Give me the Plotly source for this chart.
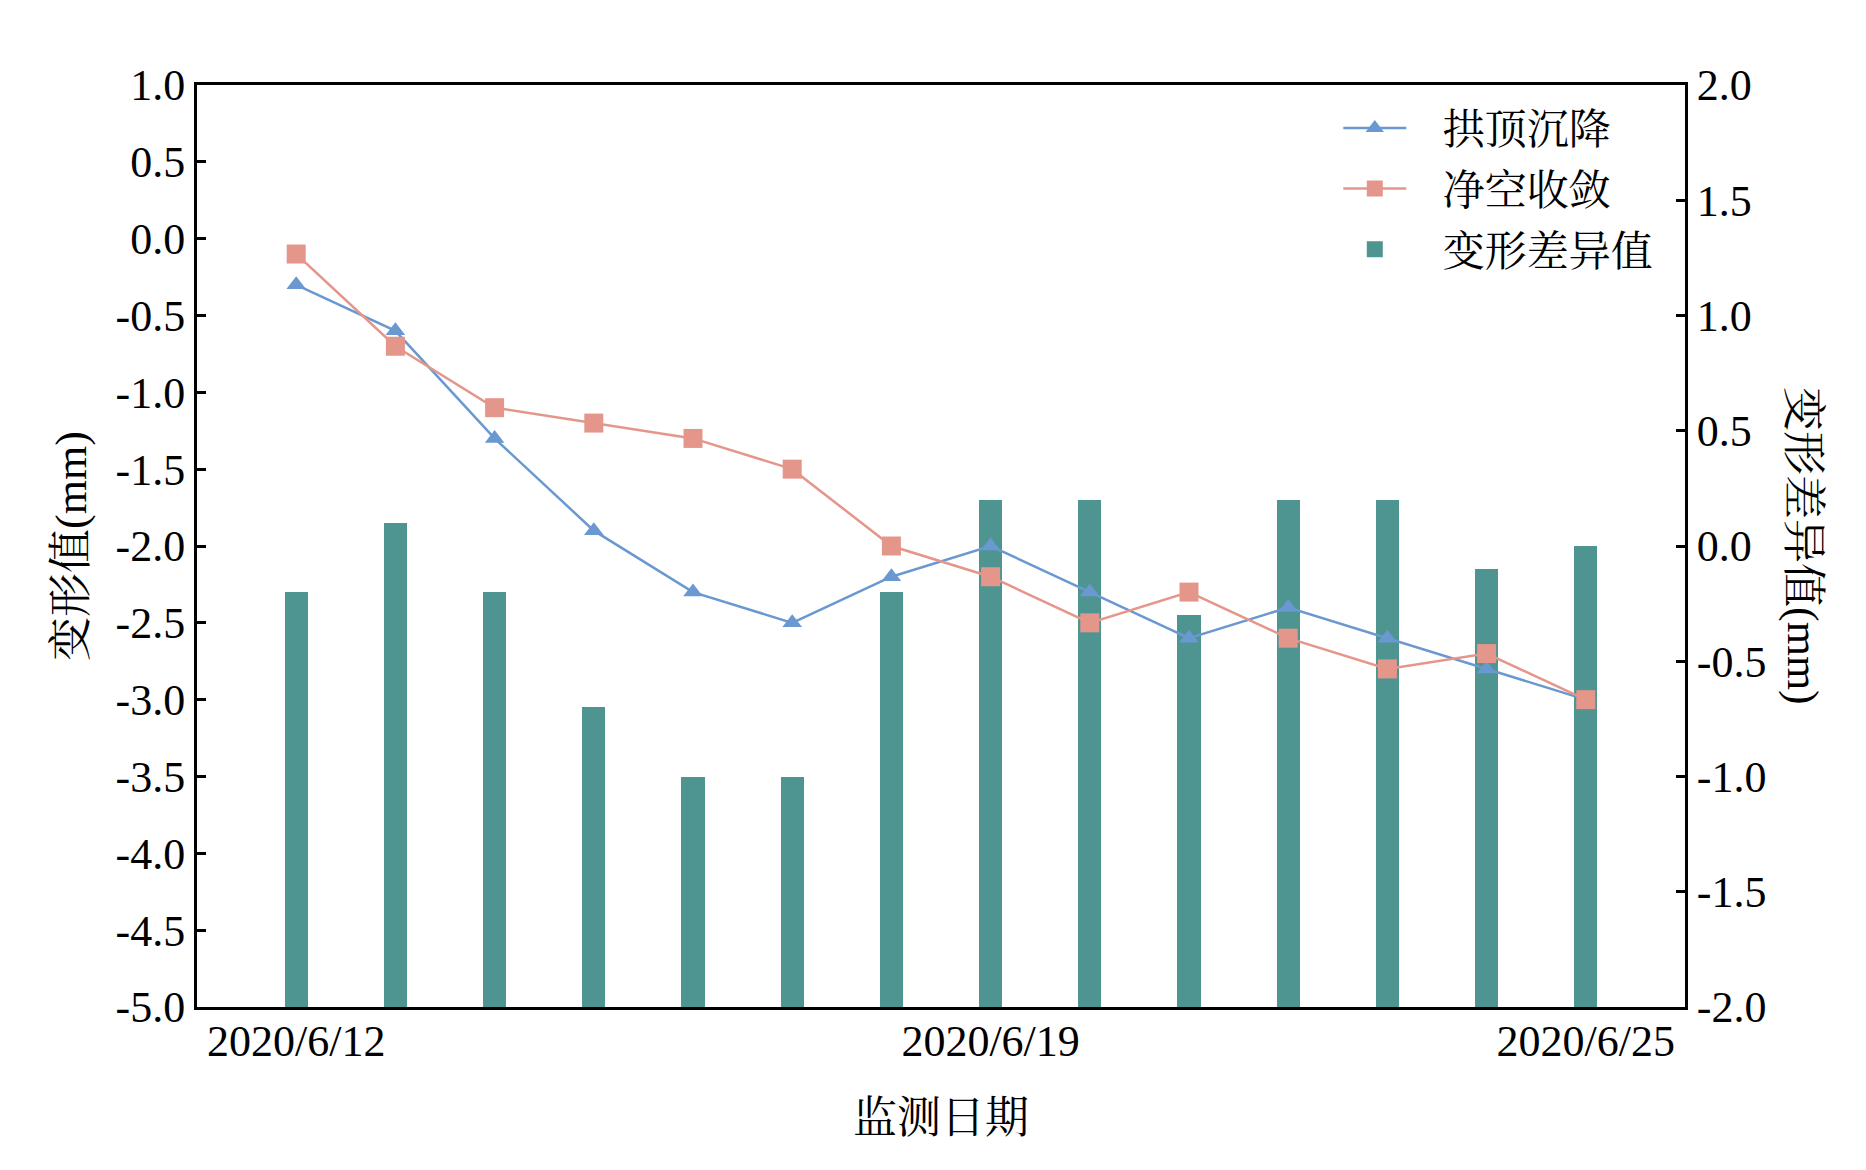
import plotly.graph_objects as go

dates = ["2020/6/12", "2020/6/13", "2020/6/14", "2020/6/15", "2020/6/16", "2020/6/17", "2020/6/18",
         "2020/6/19", "2020/6/20", "2020/6/21", "2020/6/22", "2020/6/23", "2020/6/24", "2020/6/25"]
crown_settlement = [-0.3, -0.6, -1.3, -1.9, -2.3, -2.5, -2.2, -2.0, -2.3, -2.6, -2.4, -2.6, -2.8, -3.0]
clearance_convergence = [-0.1, -0.7, -1.1, -1.2, -1.3, -1.5, -2.0, -2.2, -2.5, -2.3, -2.6, -2.8, -2.7, -3.0]
difference = [-0.2, 0.1, -0.2, -0.7, -1.0, -1.0, -0.2, 0.2, 0.2, -0.3, 0.2, 0.2, -0.1, 0.0]

x_ticks = ["2020/6/12", "2020/6/19", "2020/6/25"]
left_ticks = [-5.0, -4.5, -4.0, -3.5, -3.0, -2.5, -2.0, -1.5, -1.0, -0.5, 0.0, 0.5, 1.0]
right_ticks = [-2.0, -1.5, -1.0, -0.5, 0.0, 0.5, 1.0, 1.5, 2.0]
bar_floor = -2.0

BLUE = "#6a98d0"
SALMON = "#e5968a"
TEAL = "#4e9592"
FONT = "Liberation Serif, Noto Serif CJK SC, Noto Sans CJK SC, serif"
FS = 44
GAP = "\u00a0\u00a0\u00a0"

fig = go.Figure()

fig.add_trace(go.Bar(
    x=dates, y=[d - bar_floor for d in difference], base=bar_floor,
    width=0.232, marker=dict(color=TEAL, line=dict(width=0)),
    name="变形差异值", showlegend=False, yaxis="y", legendgroup="z",
))
fig.add_trace(go.Scatter(
    x=dates, y=crown_settlement, mode="lines+markers", name=GAP + "拱顶沉降",
    line=dict(color=BLUE, width=2.5), marker=dict(symbol="triangle-up", size=17, color=BLUE),
    yaxis="y2", legendrank=1, legendgroup="a",
))
fig.add_trace(go.Scatter(
    x=dates, y=clearance_convergence, mode="lines+markers", name=GAP + "净空收敛",
    line=dict(color=SALMON, width=2.5), marker=dict(symbol="square", size=19, color=SALMON),
    yaxis="y2", legendrank=2, legendgroup="b",
))
fig.add_trace(go.Scatter(
    x=[None], y=[None], mode="markers", name=GAP + "变形差异值",
    marker=dict(symbol="square", size=21, color=TEAL),
    yaxis="y2", legendrank=3, legendgroup="c",
))

axis_common = dict(showline=True, linecolor="black", linewidth=3, ticks="inside",
                   ticklen=9, tickwidth=3, tickcolor="black", showgrid=False, zeroline=False,
                   tickfont=dict(family=FONT, size=FS, color="black"))

fig.update_layout(
    width=1866, height=1170,
    margin=dict(l=189, r=189, t=77, b=171),
    paper_bgcolor="white", plot_bgcolor="white",
    font=dict(family=FONT, size=FS, color="black"),
    xaxis=dict(type="category", range=[-1, len(dates)], tickmode="array", tickvals=x_ticks,
               ticktext=x_ticks, showline=True, linecolor="black", linewidth=3, mirror=True,
               ticks="", showgrid=False, zeroline=False, ticklabelstandoff=-7,
               tickfont=dict(family=FONT, size=FS, color="black"),
               title=dict(text="监测日期", font=dict(family=FONT, size=FS), standoff=38)),
    yaxis=dict(side="right", range=[-2, 2], tickmode="array", tickvals=right_ticks,
               ticktext=[f"{v:.1f}" for v in right_ticks], **axis_common),
    yaxis2=dict(side="left", overlaying="y", range=[-5, 1], tickmode="array", tickvals=left_ticks,
                ticktext=[f"{v:.1f}" for v in left_ticks],
                title=dict(text="变形值(mm)", font=dict(family=FONT, size=FS), standoff=16),
                **axis_common),
    legend=dict(x=0.767, y=0.99, xanchor="left", yanchor="top", bgcolor="rgba(0,0,0,0)",
                itemwidth=63, tracegroupgap=3, traceorder="grouped",
                font=dict(family=FONT, size=42, color="black")),
    bargap=0,
    annotations=[dict(text="变形差异值(mm)", xref="paper", yref="paper", x=1.0793, y=0.5,
                      textangle=90, showarrow=False, xanchor="center", yanchor="middle",
                      font=dict(family=FONT, size=FS, color="black"))],
)

fig.write_html("out.html")
